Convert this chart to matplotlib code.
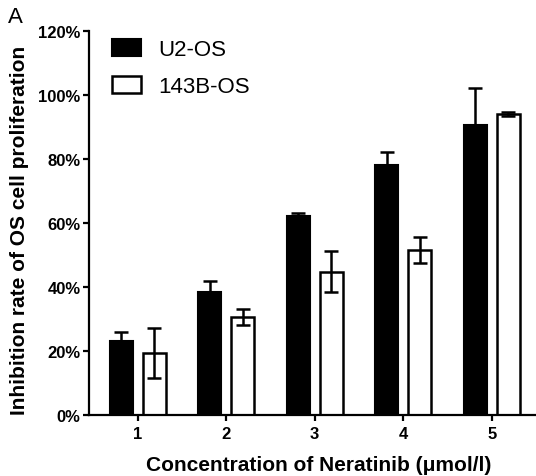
import numpy as np
import matplotlib
matplotlib.use("Agg")
from matplotlib import pyplot as plt

# data
doses = [1, 2, 3, 4, 5]
u2os_mean = [23.2, 38.5, 62.3, 78.1, 90.7]
u2os_err = [2.7, 3.5, 0.9, 4.2, 11.5]
b143_mean = [19.3, 30.6, 44.8, 51.6, 94.0]
b143_err = [7.8, 2.5, 6.3, 4.0, 0.6]
y_ticks = [0, 20, 40, 60, 80, 100, 120]

plt.rcParams['font.family'] = ['Liberation Sans', 'DejaVu Sans']

fig = plt.figure(figsize=(5.36, 4.77), dpi=100)
ax = fig.add_axes([89 / 536, 1 - 416 / 477, 1 - 89 / 536, (416 - 32) / 477])

x = np.array(doses, dtype=float)
width = 0.26
offset = 0.185
err_kw = dict(ecolor='black', elinewidth=1.8, capsize=5, capthick=1.8)

ax.bar(x - offset, u2os_mean, width, yerr=u2os_err, color='black',
       edgecolor='black', linewidth=1.5, error_kw=err_kw, label='U2-OS', zorder=2)
ax.bar(x + offset, b143_mean, width, yerr=b143_err, color='white',
       edgecolor='black', linewidth=1.8, error_kw=err_kw, label='143B-OS', zorder=2)

ax.set_xlim(0.45, 5.5)
ax.set_ylim(0, 120)
ax.set_xticks(doses)
ax.set_xticklabels([str(d) for d in doses], fontweight='bold', fontsize=12)
ax.set_yticks(y_ticks)
ax.set_yticklabels([f'{t}%' for t in y_ticks], fontweight='bold', fontsize=12)

for side in ['top', 'right']:
    ax.spines[side].set_visible(False)
for side in ['left', 'bottom']:
    ax.spines[side].set_linewidth(1.6)
ax.tick_params(width=1.6, length=4)
ax.tick_params(axis='y', pad=2)
ax.tick_params(axis='x', pad=4)

ax.set_xlabel('Concentration of Neratinib (μmol/l)', fontweight='bold', fontsize=15)
ax.xaxis.set_label_coords((319 - 89) / (536 - 89), -(471 - 416) / (416 - 32), transform=ax.transAxes)
ax.xaxis.label.set_va('baseline')
ax.set_ylabel('Inhibition rate of OS cell proliferation', fontweight='bold', fontsize=15)
ax.yaxis.set_label_coords(-(89 - 20) / (536 - 89), (416 - 230) / (416 - 32), transform=ax.transAxes)
ax.yaxis.label.set_va('center')

ax.legend(loc='upper left', bbox_to_anchor=(112 / 536, 1 - 40 / 477), bbox_transform=fig.transFigure,
          frameon=False, fontsize=16, handlelength=1.3, handleheight=0.8, handletextpad=0.8,
          labelspacing=0.7, borderpad=0, borderaxespad=0)

fig.text(8 / 536, 1 - 23 / 477, 'A', fontsize=16)

fig.savefig('out.png', dpi=100)
